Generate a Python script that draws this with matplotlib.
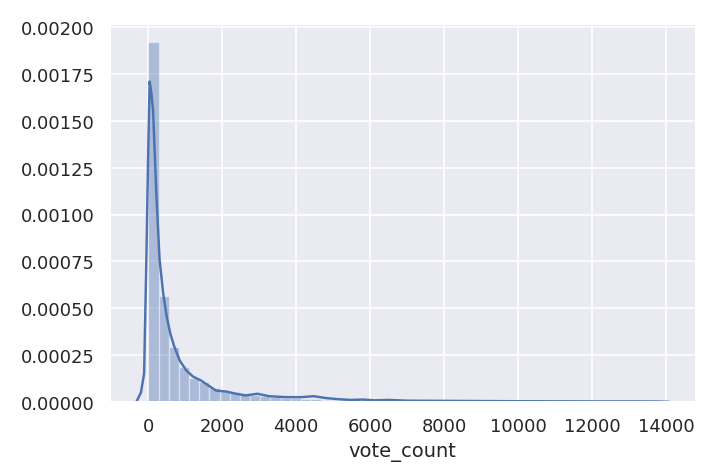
import numpy as np
import matplotlib
matplotlib.use("Agg")
import matplotlib.pyplot as plt
import seaborn as sns

# histogram of vote_count (50 bins from 0 to max), density values
max_votes = 13752
n_bins = 50
hist_density = [0.001920, 0.000567, 0.000292, 0.000188, 0.000125,
                0.000106, 0.000072, 0.000060, 0.000050, 0.000045,
                0.000036, 0.000030, 0.000026, 0.000022, 0.000018,
                0.000016, 0.000014, 0.000012, 0.000010, 0.000008,
                0.000007, 0.000006, 0.000005, 0.000005, 0.000004,
                0.000004, 0.000003, 0.000003, 0.000003, 0.000002,
                0.000002, 0.000002, 0.000002, 0.0000015, 0.0000015,
                0.0000012, 0.0000012, 0.000001, 0.000001, 0.000001,
                0.0000008, 0.0000008, 0.0000006, 0.0000006, 0.0000005,
                0.0000005, 0.0000004, 0.0000004, 0.0000003, 0.0000003]

# kde curve points
kde_x = [-322, -200, -115, -54, -8, 35, 80, 126, 214, 303, 400, 500, 600,
         700, 850, 1027, 1206, 1430, 1600, 1830, 2100, 2370, 2635, 2950,
         3260, 3700, 4155, 4470, 4800, 5200, 5500, 5800, 6100, 6500, 7000,
         8000, 9000, 10000, 11000, 12000, 13000, 13750, 14075]
kde_y = [0.0, 0.00005, 0.00015, 0.00076, 0.00129, 0.00171, 0.00165, 0.00156,
         0.00112, 0.00076, 0.00058, 0.00045, 0.00036, 0.000295, 0.00022,
         0.000167, 0.000135, 0.000113, 0.00009, 0.00006, 0.000055, 0.000043,
         0.000034, 0.000043, 0.00003, 0.000025, 0.000025, 0.00003, 0.00002,
         0.000013, 0.00001, 0.000012, 0.000008, 0.00001, 0.000006, 0.000005,
         0.000004, 0.000003, 0.0000025, 0.000002, 0.000002, 0.0000015, 0.0]

sns.set_theme(style="darkgrid")
plt.rcParams['font.family'] = ['DejaVu Sans']

color = "#4C72B0"
edges = np.linspace(0, max_votes, n_bins + 1)

fig = plt.figure(figsize=(6.0, 4.048), dpi=117.33)
ax = fig.add_axes([0.156, 0.152, 0.832, 0.795])

ax.bar(edges[:-1], hist_density, width=np.diff(edges), align='edge',
       color=color, alpha=0.4, edgecolor='white', linewidth=0.8)
ax.plot(kde_x, kde_y, color=color, lw=1.5)

ax.set_xlim(-1042, 14795)
ax.set_ylim(0, 0.002016)
ax.set_xticks(np.arange(0, 14001, 2000))
ax.set_yticks(np.arange(0, 0.00201, 0.00025))
ax.yaxis.set_major_formatter(matplotlib.ticker.FormatStrFormatter('%.5f'))
ax.tick_params(labelsize=11, colors='.15')
ax.set_xlabel('vote_count', fontsize=12, color='.15')

fig.savefig('out.png', dpi=117.33)
